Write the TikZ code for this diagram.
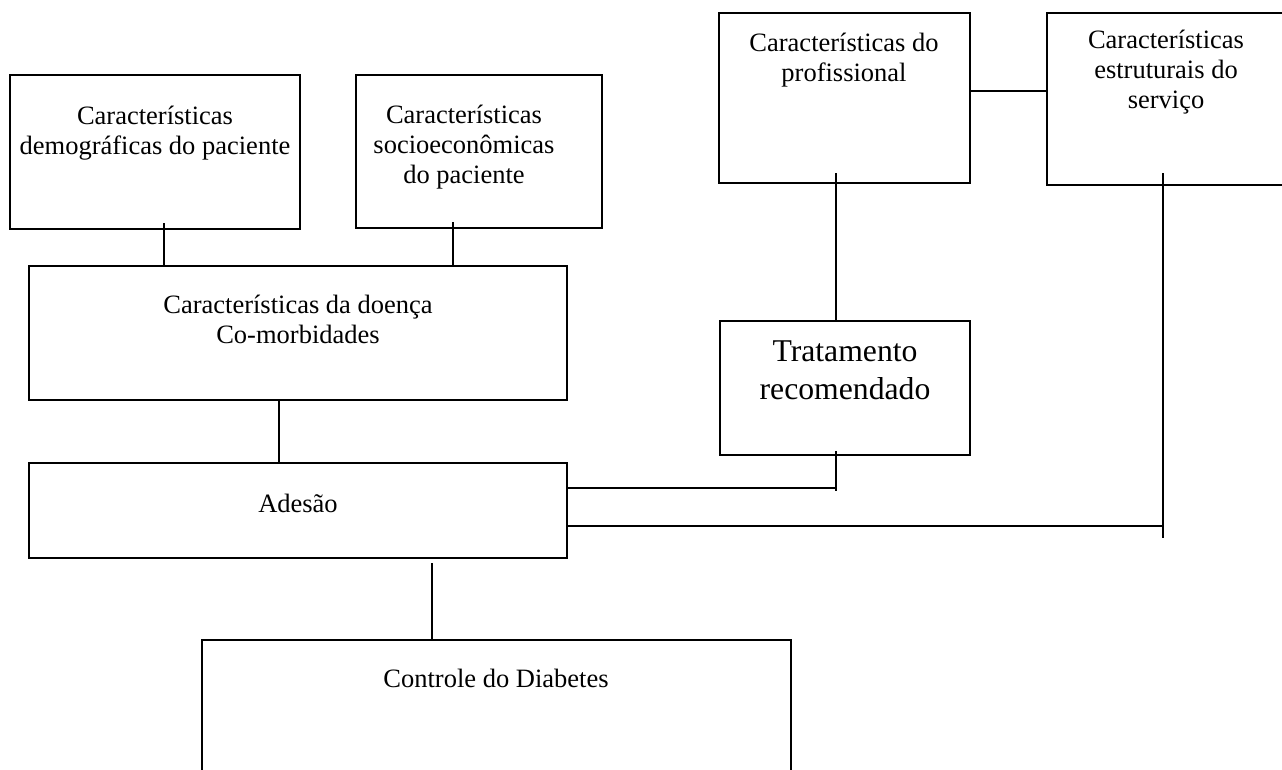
\documentclass[tikz,border=0pt]{standalone}
\usepackage{fontspec}
\setmainfont{Liberation Serif}
\begin{document}
\begin{tikzpicture}[x=1pt,y=-1pt,
  box/.style={draw, line width=2.4pt, inner sep=0pt, rectangle},
  txt/.style={align=center, inner sep=0pt, anchor=base, font=\fontsize{26.5}{30}\selectfont},
  bigtxt/.style={align=center, inner sep=0pt, anchor=base, font=\fontsize{31.7}{38}\selectfont},
  link/.style={line width=1.8pt}]
\clip (0,0) rectangle (1282,769);
\fill[white] (0,0) rectangle (1282,769);

% boxes
\node[box, minimum width=290pt, minimum height=154pt] (b1) at (155,152) {};
\node[box, minimum width=246pt, minimum height=153pt] (b2) at (479,151.5) {};
\node[box, minimum width=251pt, minimum height=170pt] (b3) at (844.5,98) {};
\node[box, minimum width=273pt, minimum height=172pt] (b4) at (1183.5,99) {};
\node[box, minimum width=538pt, minimum height=134pt] (b5) at (298,333) {};
\node[box, minimum width=250pt, minimum height=134pt] (b6) at (845,388) {};
\node[box, minimum width=538pt, minimum height=95pt] (b7) at (298,510.5) {};
\node[box, minimum width=589pt, minimum height=180pt] (b8) at (496.5,730) {};

% texts (anchor = baseline of the last line)
\node[txt] (t1) at (155,154) {Características\\demográficas do paciente};
\node[txt] (t2) at (464,183) {Características\\socioeconômicas\\do paciente};
\node[txt] (t3) at (844,81) {Características do\\profissional};
\node[txt] (t4) at (1166,108) {Características\\estruturais do\\serviço};
\node[txt] (t5) at (298,343) {Características da doença\\Co-morbidades};
\node[bigtxt] (t6) at (845,399) {Tratamento\\recomendado};
\node[txt] (t7) at (298,512) {Adesão};
\node[txt] (t8) at (496,687) {Controle do Diabetes};

% connector positions
\coordinate (k1) at (164,0);
\coordinate (k2) at (453,0);
\coordinate (k3) at (279,0);
\coordinate (k4) at (432,0);
\coordinate (j1) at (836,488);
\coordinate (j2) at (1163,526);
\coordinate (j2e) at (1163,538);
\coordinate (j1e) at (836,491);

% connectors
\draw[link] ([yshift=7pt]b1.south -| k1) -- (b5.north -| k1);
\draw[link] ([yshift=7pt]b2.south -| k2) -- (b5.north -| k2);
\draw[link] (b5.south -| k3) -- (b7.north -| k3);
\draw[link] ([yshift=-4pt]b7.south -| k4) -- (b8.north -| k4);
\draw[link] (b3.east |- 0,91) -- (b4.west |- 0,91);
\draw[link] ([yshift=11pt]b3.south -| j1) -- (b6.north -| j1);
\draw[link] ([yshift=5pt]b6.south -| j1) -- (j1e);
\draw[link] (b7.east |- j1) -- (j1);
\draw[link] ([yshift=13pt]b4.south -| j2) -- (j2e);
\draw[link] (b7.east |- j2) -- (j2);
\end{tikzpicture}
\end{document}
